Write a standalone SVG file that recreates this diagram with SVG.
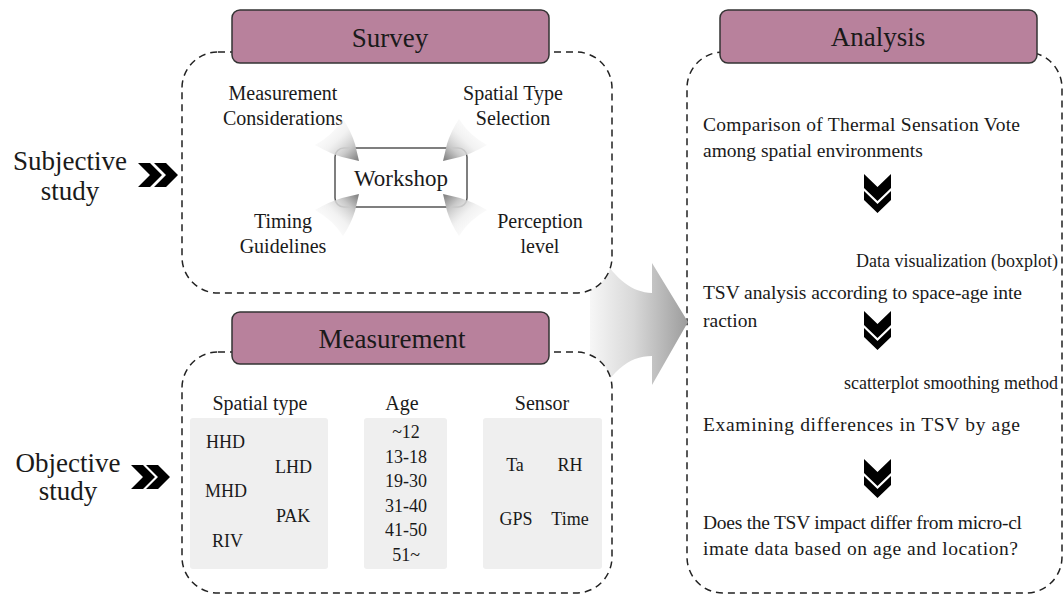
<svg xmlns="http://www.w3.org/2000/svg" width="1064" height="595" viewBox="0 0 1064 595">
<style>
  text { font-family: "Liberation Serif", "Times New Roman", serif; fill: #1a1a1a; }
  .hdr { fill: #b8819c; stroke: #333; stroke-width: 1.5; }
  .hdrt { font-size: 27px; text-anchor: middle; }
  .dash { fill: #fff; stroke: #222; stroke-width: 1.5; stroke-dasharray: 7 5; }
  .side { font-size: 27px; text-anchor: middle; }
  .lbl { font-size: 20px; text-anchor: middle; }
  .sm { font-size: 18px; }
  .smc { font-size: 18px; text-anchor: middle; }
  .an { font-size: 19.5px; }
  .note { font-size: 18px; text-anchor: end; }
  .panel { fill: #efefef; }
  .garrow { fill: #8a8a8a; }
  .chev { fill: #000; }
</style>
<defs>
  <linearGradient id="fanGrad" x1="0" y1="0" x2="1" y2="1">
    <stop offset="0" stop-color="#ffffff" stop-opacity="0"/>
    <stop offset="0.5" stop-color="#ececec" stop-opacity="0.7"/>
    <stop offset="0.75" stop-color="#c8c8c8"/>
    <stop offset="1" stop-color="#7a7a7a"/>
  </linearGradient>
  <linearGradient id="bigGrad" gradientUnits="userSpaceOnUse" x1="578" y1="0" x2="690" y2="0">
    <stop offset="0" stop-color="#ffffff"/>
    <stop offset="0.5" stop-color="#d8d8d8"/>
    <stop offset="1" stop-color="#9a9a9a"/>
  </linearGradient>
  <path id="fan" d="M0,0 L-17,-4 Q-28,-7 -44,-16 Q-26,-26 -16,-42 Q-8,-30 -4,-17 Z" fill="url(#fanGrad)"/>
  <path id="chevR" d="M0,0 L12,0 L24,12 L12,24 L0,24 L12,12 Z"/>
  <path id="chevD" d="M0,0 L13.5,13 L27,0 L27,14 L13.5,27 L0,14 Z M0,17 L13.5,30 L27,17 L27,26 L13.5,39 L0,26 Z"/>
  <path id="blk" d="M0,5 L9,5 L9,0 L18,9 L9,18 L9,13 L0,13 Z"/>
</defs>

<!-- Analysis -->
<g id="analysis">
  <rect class="dash" x="687" y="52" width="375" height="541" rx="36"/>
  <rect class="hdr" x="720" y="10" width="317" height="53" rx="8"/>
  <text class="hdrt" x="878" y="46">Analysis</text>
  <text class="an" x="703" y="131" textLength="317" lengthAdjust="spacing">Comparison of Thermal Sensation Vote</text>
  <text class="an" x="703" y="157">among spatial environments</text>
  <use href="#chevD" class="chev" x="864" y="174"/>
  <text class="note" x="1058" y="267">Data visualization (boxplot)</text>
  <text class="an" x="703" y="299" textLength="319" lengthAdjust="spacing">TSV analysis according to space-age inte</text>
  <text class="an" x="703" y="327">raction</text>
  <use href="#chevD" class="chev" x="864" y="311"/>
  <text class="note" x="1058" y="389">scatterplot smoothing method</text>
  <text class="an" x="703" y="431" textLength="317" lengthAdjust="spacing">Examining differences in TSV by age</text>
  <use href="#chevD" class="chev" x="864" y="459"/>
  <text class="an" x="703" y="529" textLength="319" lengthAdjust="spacing">Does the TSV impact differ from micro-cl</text>
  <text class="an" x="703" y="555" textLength="315" lengthAdjust="spacing">imate data based on age and location?</text>
</g>

<!-- connectors -->
<g id="connectors">
  <path d="M590,235 C610,275 628,292 652,293 L652,263 L688,322 L652,385 L652,356 C628,356 610,372 590,410 Z" fill="url(#bigGrad)"/>
  <use href="#chevR" class="chev" x="138" y="163"/>
  <use href="#chevR" class="chev" x="154" y="163"/>
  <use href="#chevR" class="chev" x="131" y="465"/>
  <use href="#chevR" class="chev" x="146" y="465"/>
  <use href="#blk" class="garrow" x="337" y="395"/>
  <use href="#blk" class="garrow" x="450" y="395"/>
</g>

<!-- Left labels -->
<g id="subjective">
  <text class="side" x="70" y="170">Subjective</text>
  <text class="side" x="70" y="200">study</text>
</g>
<g id="objective">
  <text class="side" x="68" y="472">Objective</text>
  <text class="side" x="68" y="500">study</text>
</g>

<!-- Survey -->
<g id="survey">
  <rect class="dash" x="182" y="52" width="430" height="241" rx="36"/>
  <rect class="hdr" x="232" y="10" width="317" height="53" rx="8"/>
  <text class="hdrt" x="390" y="47">Survey</text>
  <text class="lbl" x="283" y="100">Measurement</text>
  <text class="lbl" x="283" y="125">Considerations</text>
  <text class="lbl" x="513" y="100">Spatial Type</text>
  <text class="lbl" x="513" y="125">Selection</text>
  <text class="lbl" x="283" y="228">Timing</text>
  <text class="lbl" x="283" y="253">Guidelines</text>
  <text class="lbl" x="540" y="228">Perception</text>
  <text class="lbl" x="540" y="253">level</text>
</g>
<g id="workshop">
  <rect x="335" y="148" width="132" height="59" rx="9" fill="#fff" stroke="#555" stroke-width="1.5"/>
  <use href="#fan" transform="translate(359,161)"/>
  <use href="#fan" transform="translate(443,161) scale(-1,1)"/>
  <use href="#fan" transform="translate(359,194) scale(1,-1)"/>
  <use href="#fan" transform="translate(443,194) scale(-1,-1)"/>
  <text x="401" y="186" font-size="23" text-anchor="middle">Workshop</text>
</g>

<!-- Measurement -->
<g id="measurement">
  <rect class="dash" x="182" y="352" width="430" height="241" rx="36"/>
  <rect class="hdr" x="232" y="312" width="317" height="52" rx="8"/>
  <text class="hdrt" x="392" y="348">Measurement</text>
  <text class="lbl" x="260" y="410">Spatial type</text>
  <text class="lbl" x="402" y="410">Age</text>
  <text class="lbl" x="542" y="410">Sensor</text>
</g>
<g id="spatial-type">
  <rect class="panel" x="190" y="418" width="138" height="151" rx="3"/>
  <text class="sm" x="206" y="448">HHD</text>
  <text class="sm" x="275" y="473">LHD</text>
  <text class="sm" x="205" y="497">MHD</text>
  <text class="sm" x="276" y="522">PAK</text>
  <text class="sm" x="212" y="547">RIV</text>
</g>
<g id="age">
  <rect class="panel" x="364" y="418" width="83" height="151" rx="3"/>
  <text class="smc" x="406" y="438">~12</text>
  <text class="smc" x="406" y="463">13-18</text>
  <text class="smc" x="406" y="487">19-30</text>
  <text class="smc" x="406" y="512">31-40</text>
  <text class="smc" x="406" y="536">41-50</text>
  <text class="smc" x="406" y="561">51~</text>
</g>
<g id="sensor">
  <rect class="panel" x="483" y="418" width="119" height="151" rx="3"/>
  <text class="smc" x="515" y="471">Ta</text>
  <text class="smc" x="570" y="471">RH</text>
  <text class="smc" x="516" y="525">GPS</text>
  <text class="smc" x="570" y="525">Time</text>
</g>
</svg>
